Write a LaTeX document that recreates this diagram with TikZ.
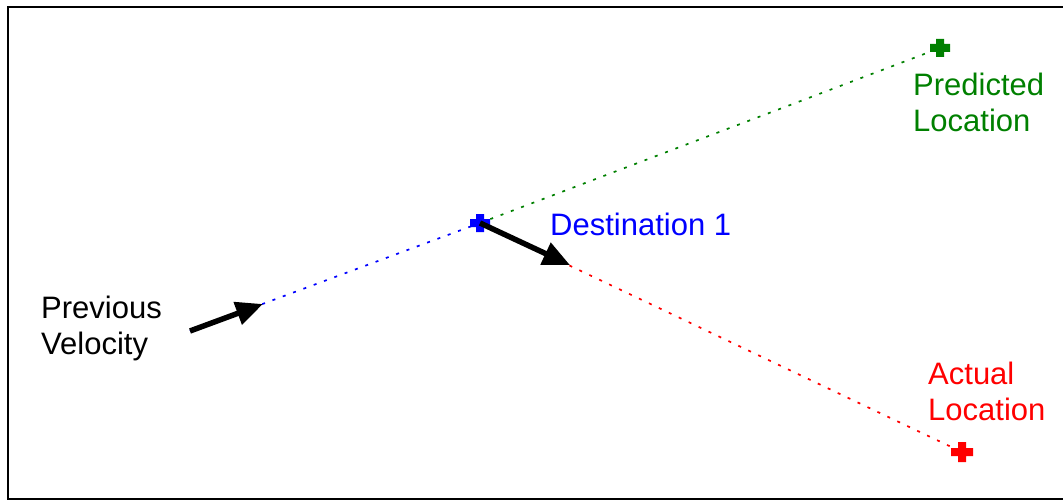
\documentclass[tikz,border=0pt]{standalone}
\usepackage{fontspec}
\setmainfont{Liberation Sans}
\usetikzlibrary{arrows.meta}
\definecolor{pgreen}{RGB}{0,128,0}
\definecolor{pblue}{RGB}{0,0,255}
\definecolor{pred}{RGB}{255,0,0}
\begin{document}
\begin{tikzpicture}[x=1pt,y=-1pt,
  dotline/.style={line width=1.7pt, dash pattern=on 3pt off 8pt},
  bigarrow/.style={line width=5.5pt, -{Triangle[length=27pt,width=23pt]}},
  lbl/.style={inner sep=0pt, anchor=base west, align=left, font=\fontsize{31}{36}\selectfont}
]
\useasboundingbox (0,0) rectangle (1063,500);
\draw[line width=2pt] (1063,7) -- (8,7) -- (8,499) -- (1063,499);

\coordinate (start) at (190,331);
\coordinate (dest) at (480,223);
\coordinate (predloc) at (940,48);
\coordinate (actloc) at (962,452);

% dotted lines
\draw[dotline, pblue] (start) -- (dest);
\draw[dotline, pgreen] (dest) -- (predloc);
\draw[dotline, pred] (dest) -- (actloc);

% plus markers
\fill[pgreen] ([shift={(-10,-4)}]predloc) rectangle ([shift={(10,4)}]predloc)
              ([shift={(-4,-9)}]predloc) rectangle ([shift={(4,9)}]predloc);
\fill[pblue] ([shift={(-10,-4)}]dest) rectangle ([shift={(10,4)}]dest)
             ([shift={(-4,-9)}]dest) rectangle ([shift={(4,9)}]dest);
\fill[pred] ([shift={(-11,-4)}]actloc) rectangle ([shift={(11,4)}]actloc)
            ([shift={(-4,-10)}]actloc) rectangle ([shift={(4,10)}]actloc);

% arrows
\coordinate (v1) at (263,304);
\coordinate (d1) at (570,265);
\draw[bigarrow] (start) -- (v1);
\draw[bigarrow] (dest) -- (d1);

% labels (base anchor = baseline of last line)
\node[lbl] (prevlbl) at (41,354) {Previous\\Velocity};
\node[lbl, text=pblue] (destlbl) at (550,235) {Destination 1};
\node[lbl, text=pgreen] (predlbl) at (913,132) {Predicted\\Location};
\node[lbl, text=pred] (actlbl) at (928,420) {Actual\\Location};
\end{tikzpicture}
\end{document}
